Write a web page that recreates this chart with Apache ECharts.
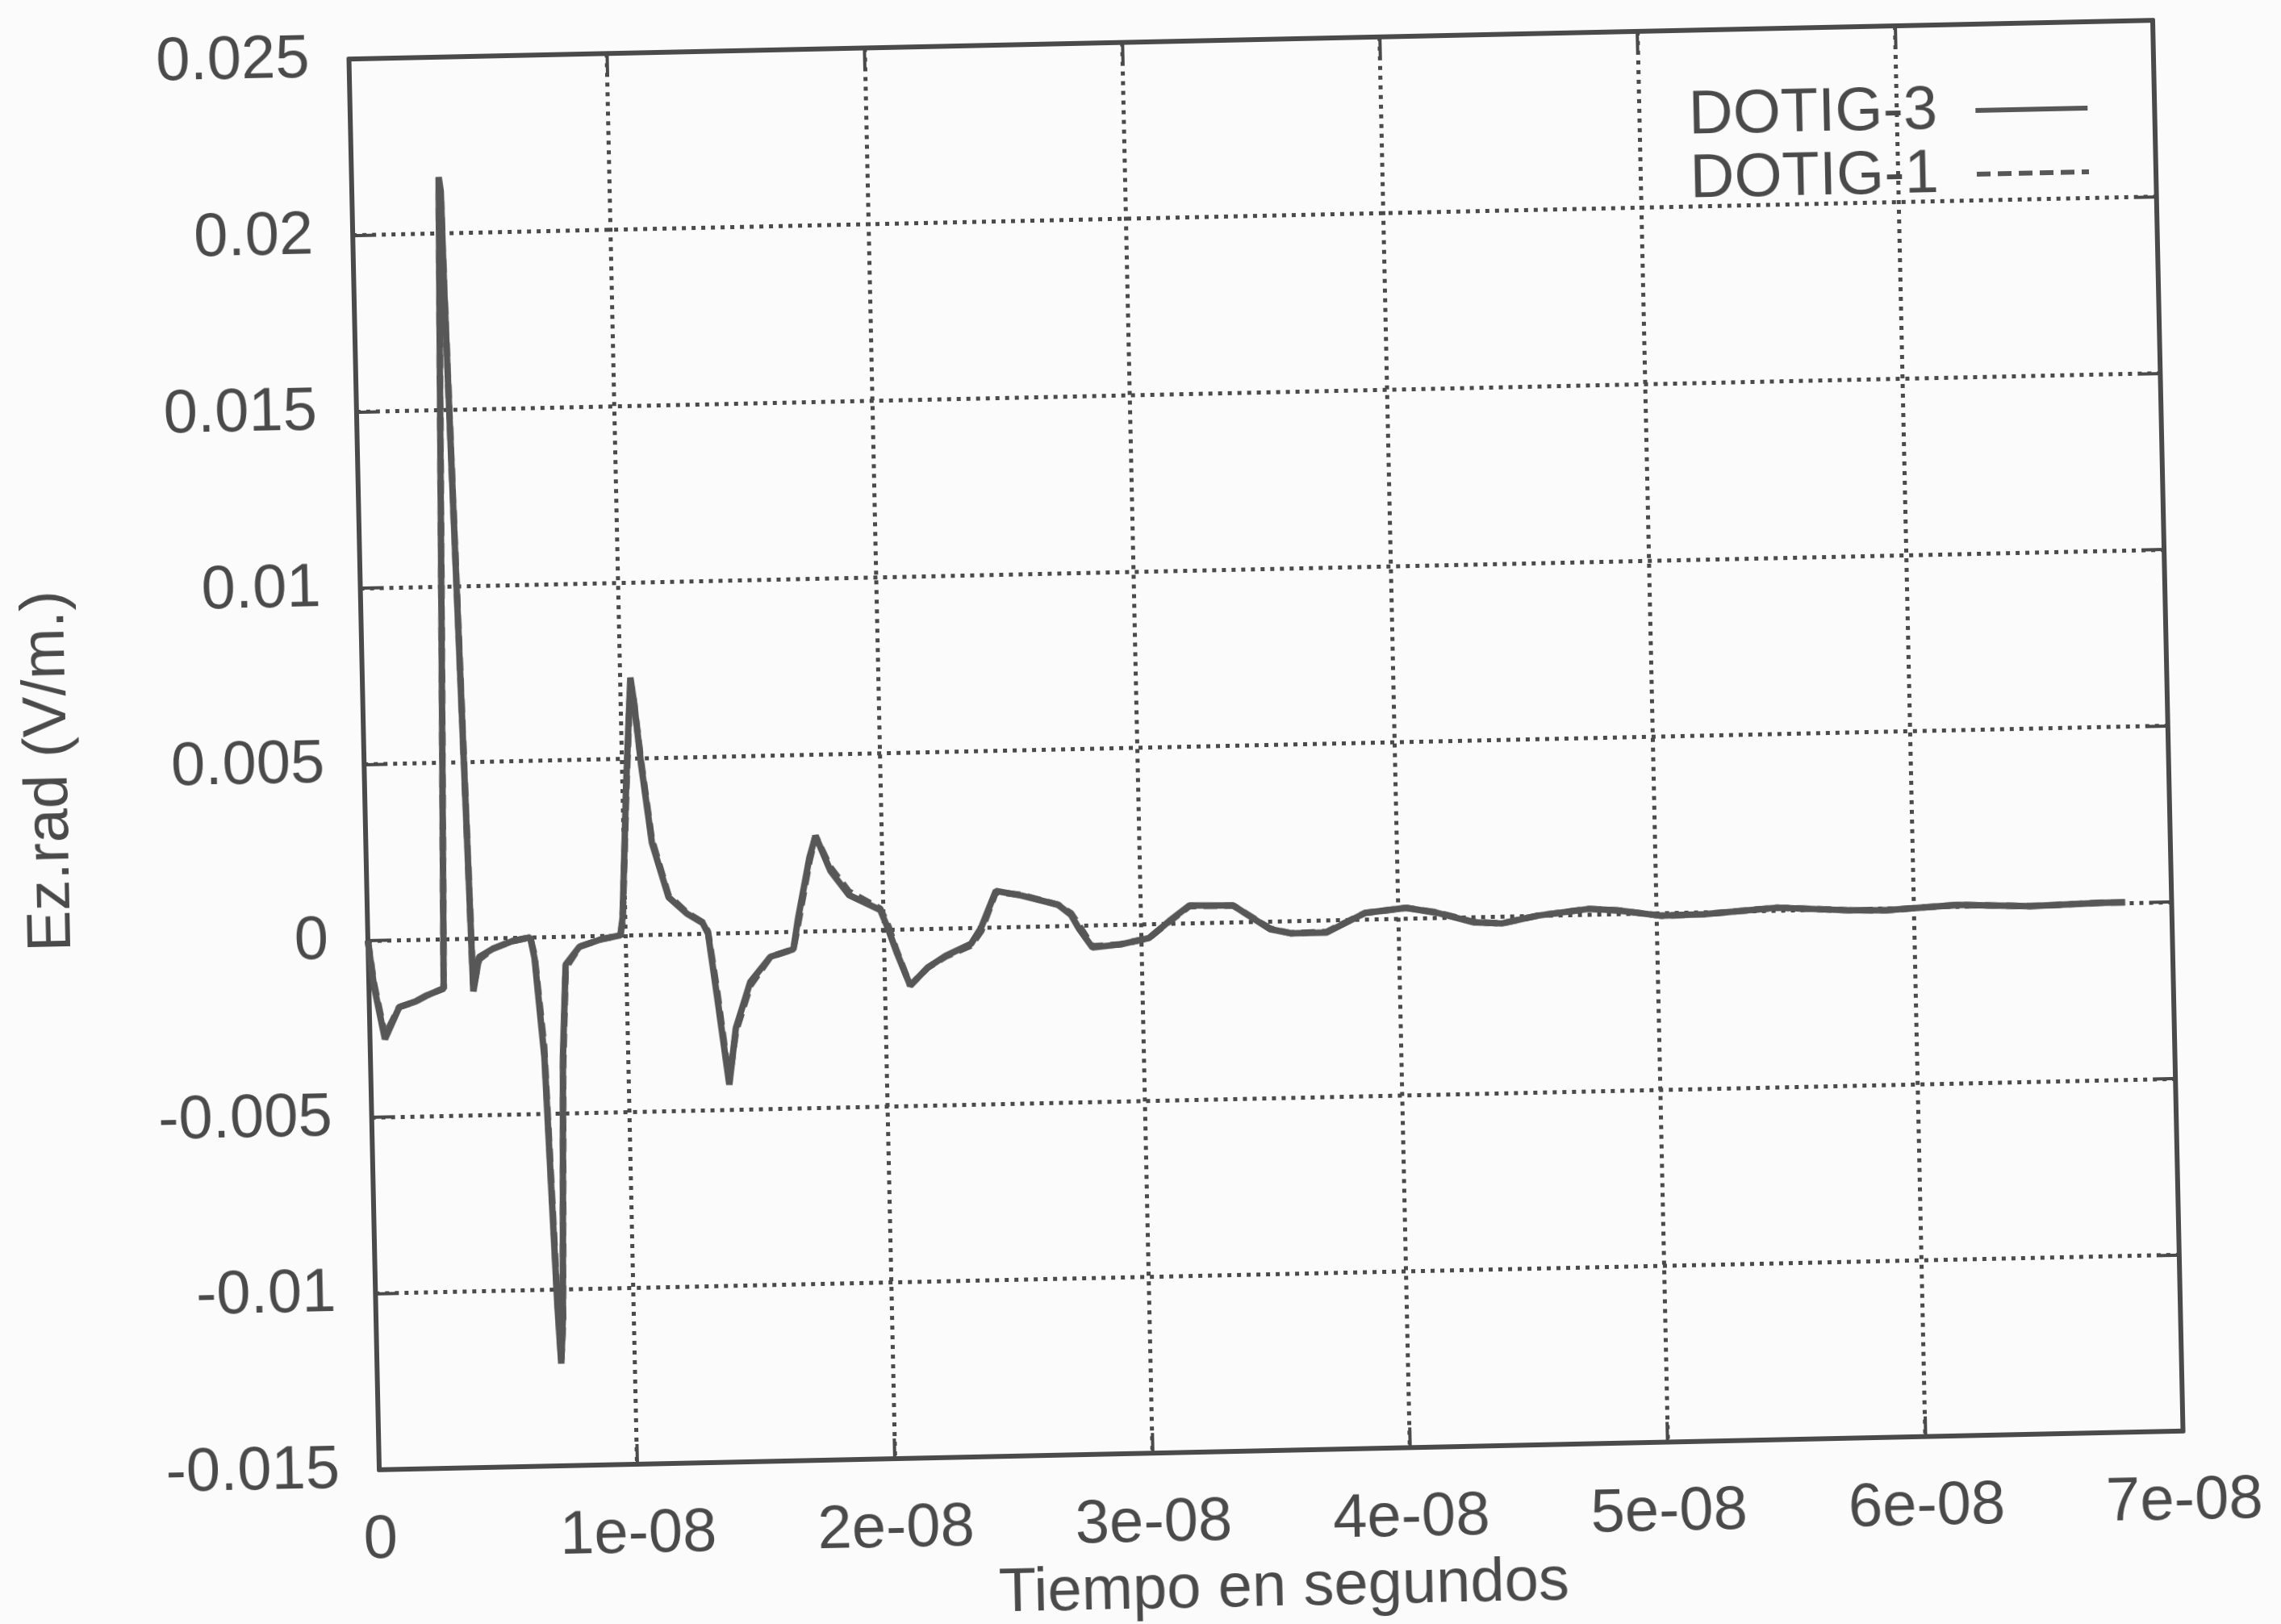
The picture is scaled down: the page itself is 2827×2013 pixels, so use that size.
<!DOCTYPE html>
<html lang="es">
<head>
    <meta charset="UTF-8">
    <title>Ez.rad - DOTIG-3 / DOTIG-1</title>
    <script src="https://cdn.jsdelivr.net/npm/echarts@6/dist/echarts.min.js"></script>
    <style>
        html, body { margin: 0; padding: 0; background: #fbfbfb; overflow: hidden; }
        /* el escaneo original esta ligeramente girado */
        #main {
            width: 2827px; height: 2013px;
            transform: rotate(-1.23deg);
            transform-origin: 1569px 923px;
        }
    </style>
</head>
<body>
    <div id="main"></div>
    <script>
        // tiempo en segundos
        const tiempo = [
            0, 0.2e-9, 0.58e-9, 1.16e-9, 1.8e-9, 2.2e-9, 2.9e-9, 3.1e-9, 3.38e-9, 3.45e-9,
            3.5e-9, 3.8e-9, 4.05e-9, 4.3e-9, 4.85e-9, 5.6e-9, 6.3e-9, 6.45e-9, 6.75e-9, 7.05e-9,
            7.15e-9, 7.25e-9, 7.47e-9, 7.65e-9, 8.2e-9, 9.05e-9, 9.8e-9, 9.9e-9, 10.15e-9, 10.4e-9,
            10.52e-9, 10.75e-9, 11.1e-9, 11.7e-9, 12.4e-9, 13.0e-9, 13.2e-9, 13.5e-9, 13.9e-9, 14.2e-9,
            14.8e-9, 15.6e-9, 16.5e-9, 16.7e-9, 17.2e-9, 17.45e-9, 18.0e-9, 18.7e-9, 19.9e-9, 20.2e-9,
            20.5e-9, 21.0e-9, 21.7e-9, 22.4e-9, 23.4e-9, 23.8e-9, 24.4e-9, 25.4e-9, 26.8e-9, 27.3e-9,
            27.6e-9, 28.1e-9, 29.2e-9, 30.3e-9, 31.1e-9, 31.9e-9, 33.6e-9, 35.0e-9, 35.8e-9, 37.2e-9,
            38.7e-9, 40.3e-9, 41.5e-9, 42.9e-9, 44.0e-9, 45.4e-9, 47.4e-9, 48.5e-9, 50.2e-9, 51.9e-9,
            54.7e-9, 57.5e-9, 58.9e-9, 61.7e-9, 64.5e-9, 67.3e-9, 68.2e-9
        ]
        // Ez.rad (V/m.) DOTIG-3
        const ezDotig3 = [
            0, -0.0013, -0.0028, -0.0019, -0.00175, -0.0016, -0.0014, 0.0080, 0.0216, 0.0212,
            0.0185, 0.0076, -0.0015, -0.00053, -0.0003, -0.0001, 0, -0.0006, -0.0034, -0.0105,
            -0.0121, -0.0108, -0.0034, -0.0008, -0.0003, -0.0001, 0, 0.0005, 0.0043, 0.0073,
            0.0066, 0.0048, 0.0026, 0.00105, 0.00057, 0.0003, 0, -0.0018, -0.0043, -0.0027,
            -0.0014, -0.0007, -0.0005, 0.00035, 0.0021, 0.0027, 0.0017, 0.0010, 0.00056, 0,
            -0.00065, -0.0016, -0.0011, -0.00078, -0.00045, 0, 0.00103, 0.00088, 0.0006, 0.0003,
            -0.0001, -0.00063, -0.00056, -0.0004, 0.00007, 0.0005, 0.00047, -0.00022, -0.00035, -0.00035,
            0.00018, 0.0003, 0.00014, -0.00015, -0.0002, 0, 0.00016, 0.0001, -0.00008, -0.00006,
            0.00008, -0.00004, -0.00006, 0.00005, -0.00003, 0.00002, 0.00002
        ]
        // Ez.rad (V/m.) DOTIG-1
        const ezDotig1 = [
            0, -0.0012, -0.0027, -0.0019, -0.00175, -0.0016, -0.0014, 0.0077, 0.0213, 0.0209,
            0.0186, 0.0078, -0.0014, -0.0006, -0.0003, -0.0001, 0, -0.0005, -0.0031, -0.0102,
            -0.0120, -0.0110, -0.0037, -0.0009, -0.0003, -0.0001, 0, 0.0004, 0.0041, 0.0072,
            0.0066, 0.0049, 0.0027, 0.0011, 0.0006, 0.00032, 0.00005, -0.0016, -0.0042, -0.0028,
            -0.0015, -0.0007, -0.0005, 0.0002, 0.0020, 0.0027, 0.0018, 0.0011, 0.0006, 0.0001,
            -0.0006, -0.0016, -0.0011, -0.0008, -0.0005, -0.0001, 0.0010, 0.0009, 0.0006, 0.00035,
            0, -0.0006, -0.00056, -0.0004, 0.00005, 0.00048, 0.00047, -0.0002, -0.00035, -0.00033,
            0.00018, 0.0003, 0.00015, -0.00014, -0.0002, 0, 0.00016, 0.0001, -0.00008, -0.00006,
            0.00008, -0.00004, -0.00006, 0.00005, -0.00003, 0.00002, 0.00002
        ]
        const nombres = ['DOTIG-3', 'DOTIG-1']

        function init () {
            const tinta = '#4a4a4a'
            const fuente = 'Liberation Sans'
            const myChart = echarts.init(document.getElementById('main'))

            // ejes con marcas hacia dentro, como gnuplot (marco en los cuatro lados)
            const marcas = { show: true, inside: true, length: 25, lineStyle: { color: tinta, width: 4 } }
            const linea = { show: true, onZero: false, lineStyle: { color: tinta, width: 6 } }
            const rejilla = { show: true, lineStyle: { color: tinta, width: 5, type: [5, 7] } }
            const etiquetas = { color: tinta, fontFamily: fuente, fontSize: 76 }

            const option = {
                animation: false,
                backgroundColor: '#fbfbfb',
                grid: { left: 451, top: 49, width: 2236, height: 1749 },
                legend: {
                    orient: 'vertical',
                    align: 'right',
                    right: 215,
                    top: 113,
                    itemGap: 3,
                    itemWidth: 139,
                    itemHeight: 20,
                    data: nombres,
                    formatter: name => name + '  ',
                    itemStyle: { opacity: 0 },
                    lineStyle: { width: 6 },
                    textStyle: { color: tinta, fontFamily: fuente, fontSize: 76 }
                },
                xAxis: [
                    {
                        type: 'value',
                        min: 0,
                        max: 7e-8,
                        interval: 1e-8,
                        name: 'Tiempo en segundos',
                        nameLocation: 'middle',
                        nameGap: 133,
                        nameTextStyle: etiquetas,
                        axisLine: linea,
                        axisTick: marcas,
                        splitLine: rejilla,
                        axisLabel: Object.assign({
                            margin: 50,
                            formatter: v => v === 0 ? '0' : Math.round(v / 1e-8) + 'e-08'
                        }, etiquetas)
                    },
                    {
                        type: 'value',
                        position: 'top',
                        min: 0,
                        max: 7e-8,
                        interval: 1e-8,
                        axisLine: linea,
                        axisTick: marcas,
                        splitLine: { show: false },
                        axisLabel: { show: false }
                    }
                ],
                yAxis: [
                    {
                        type: 'value',
                        min: -0.015,
                        max: 0.025,
                        interval: 0.005,
                        name: 'Ez.rad (V/m.)',
                        nameLocation: 'middle',
                        nameGap: 352,
                        nameTextStyle: etiquetas,
                        axisLine: linea,
                        axisTick: marcas,
                        splitLine: rejilla,
                        axisLabel: Object.assign({
                            margin: 49,
                            formatter: v => String(parseFloat(v.toFixed(3)))
                        }, etiquetas)
                    },
                    {
                        type: 'value',
                        position: 'right',
                        min: -0.015,
                        max: 0.025,
                        interval: 0.005,
                        axisLine: linea,
                        axisTick: marcas,
                        splitLine: { show: false },
                        axisLabel: { show: false }
                    }
                ],
                series: [
                    {
                        name: nombres[0],
                        type: 'line',
                        symbol: 'none',
                        data: tiempo.map((t, i) => [t, ezDotig3[i]]),
                        lineStyle: { color: '#575757', width: 8 },
                        itemStyle: { color: '#575757' }
                    },
                    {
                        name: nombres[1],
                        type: 'line',
                        symbol: 'none',
                        data: tiempo.map((t, i) => [t, ezDotig1[i]]),
                        lineStyle: { color: '#575757', width: 8, type: [17, 9] },
                        itemStyle: { color: '#575757' }
                    }
                ]
            }

            myChart.setOption(option)
        }

        init()
    </script>
</body>
</html>
